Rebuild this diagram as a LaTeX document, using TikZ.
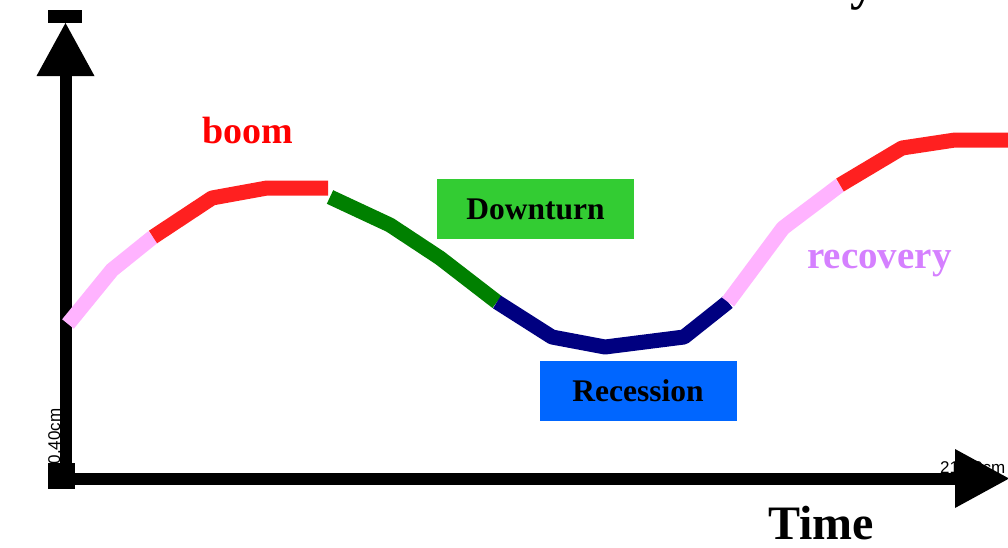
\documentclass[tikz,border=0pt]{standalone}
\usepackage{fontspec}
\setmainfont{Liberation Serif}
\newfontfamily\lsans{Liberation Sans}
\definecolor{cred}{RGB}{255,32,32}
\definecolor{cpink}{RGB}{255,179,255}
\definecolor{cgreen}{RGB}{0,128,0}
\definecolor{cnavy}{RGB}{0,0,128}
\definecolor{boxgreen}{RGB}{51,204,51}
\definecolor{boxblue}{RGB}{0,102,255}
\definecolor{cviolet}{RGB}{213,128,255}
\begin{document}
\begin{tikzpicture}[x=1pt,y=-1pt,
  axis/.style={line width=12pt,black},
  seg/.style={line width=15pt,line join=round,line cap=butt},
  lbl/.style={inner sep=0pt,anchor=base west,font=\bfseries},
  phasebox/.style={minimum width=197pt,minimum height=60pt,inner sep=0pt,font=\bfseries\fontsize{31.5}{32}\selectfont}]
\useasboundingbox (0,0) rectangle (1008,547);
\clip (0,0) rectangle (1008,547);
% coordinates of the axes
\coordinate (O) at (65.5,479);
\coordinate (ytop) at (65.5,40);
\coordinate (xend) at (960,479);
% clipped title fragment
\node[lbl,font=\bfseries\fontsize{50}{50}\selectfont] (title) at (850,-1) {y};
% axis size labels
\node[inner sep=0pt,anchor=base west,rotate=90,font=\lsans\fontsize{17}{17}\selectfont] (hlab) at (60,474) {10.40cm};
\node[inner sep=0pt,anchor=base west,font=\lsans\fontsize{17}{17}\selectfont] (wlab) at (940,473) {21.00cm};
% axes
\draw[axis] (O) -- (ytop);
\draw[axis] (O) -- (xend);
\fill (48,463) rectangle (75,489);
\fill (48,10) rectangle (82,23);
\fill (65.5,23) -- (94.5,76) -- (36.5,76) -- cycle;
\fill (1009,478.5) -- (955,449) -- (955,508) -- cycle;
% curve points
\coordinate (p1) at (68,324);
\coordinate (p2) at (112,270);
\coordinate (p3) at (153,237);
\coordinate (p4) at (212,198);
\coordinate (p5) at (267,188);
\coordinate (p6) at (328,188);
\coordinate (g1) at (330,197);
\coordinate (g2) at (390,225);
\coordinate (g3) at (440,258);
\coordinate (g4) at (497,302);
\coordinate (n1) at (552,337);
\coordinate (n2) at (605,347);
\coordinate (n3) at (684,337);
\coordinate (n4) at (728,302);
\coordinate (q1) at (783,228);
\coordinate (q2) at (840,185);
\coordinate (q3) at (902,148);
\coordinate (q4) at (955,140);
\coordinate (q5) at (1010,140);
\draw[seg,cpink] (p1) -- (p2) -- (p3);
\draw[seg,cred] (p3) -- (p4) -- (p5) -- (p6);
\draw[seg,cgreen] (g1) -- (g2) -- (g3) -- (g4);
\draw[seg,cnavy] (g4) -- (n1) -- (n2) -- (n3) -- (n4);
\draw[seg,cpink] (n4) -- (q1) -- (q2);
\draw[seg,cred] (q2) -- (q3) -- (q4) -- (q5);
% labels
\node[lbl,text=red,font=\bfseries\fontsize{38}{38}\selectfont] (boom) at (202,143) {boom};
\node[lbl,text=cviolet,font=\bfseries\fontsize{39}{39}\selectfont] (recovery) at (807,268) {recovery};
\node[phasebox,fill=boxgreen] (down) at (535.5,209) {Downturn};
\node[phasebox,fill=boxblue] (rec) at (638,391) {Recession};
\node[lbl,font=\bfseries\fontsize{48}{48}\selectfont] (time) at (768,539) {Time};
\end{tikzpicture}
\end{document}
